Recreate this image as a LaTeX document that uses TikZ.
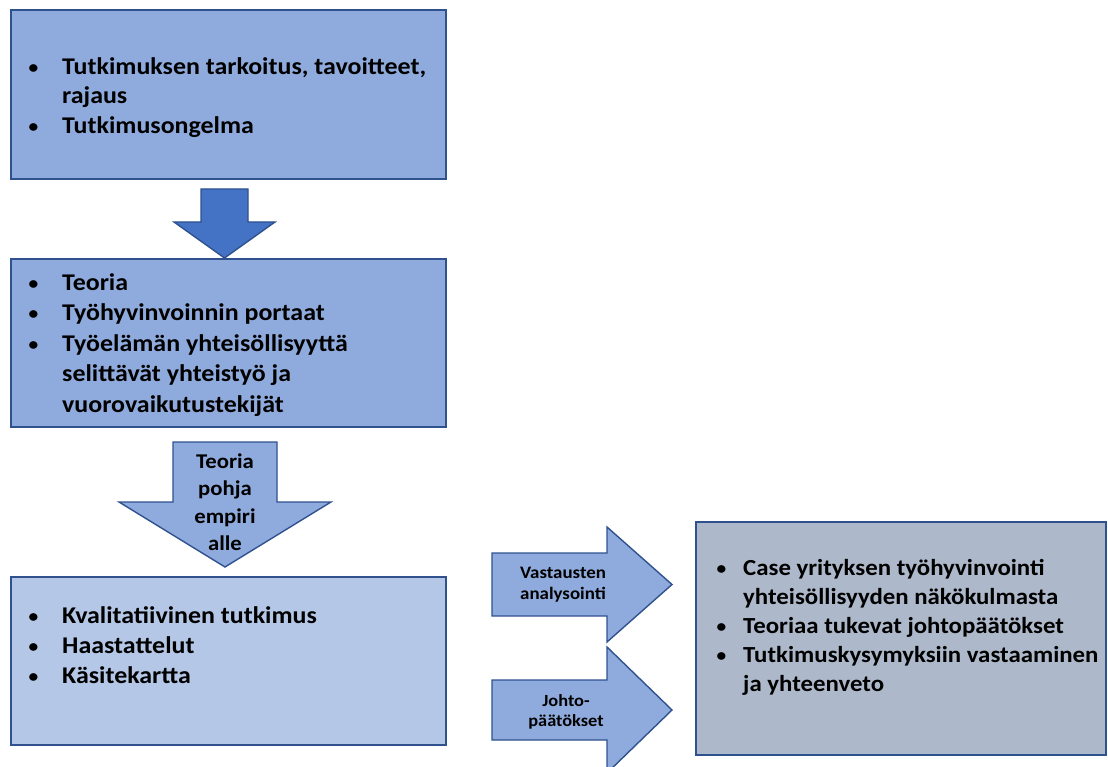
\documentclass[tikz,border=0pt]{standalone}
\usepackage{fontspec}
\setmainfont{Carlito}[FakeStretch=1.08]
\definecolor{bordc}{HTML}{2F528F}
\definecolor{fillA}{HTML}{8FAADC}
\definecolor{fillB}{HTML}{B4C7E7}
\definecolor{fillC}{HTML}{ADB9CA}
\definecolor{fillD}{HTML}{4472C4}
\newcommand{\blt}[2]{\makebox[#1][l]{\hspace{0.5pt}\raisebox{0.8pt}{\fontsize{18}{0}\selectfont\textbullet}}#2}
\tikzset{
  boxshape/.style={draw=bordc, line width=1.6pt},
  arrowshape/.style={draw=bordc, line width=1.4pt, line join=miter},
  listtext/.style={anchor=north west, inner sep=0pt, align=left, font=\bfseries\fontsize{24}{29.5}\selectfont},
  arrowtext/.style={anchor=north, inner sep=0pt, align=center},
}
\begin{document}
\begin{tikzpicture}[x=1pt,y=-1pt]
\useasboundingbox (0,0) rectangle (1108,767);
% boxes
\draw[boxshape, fill=fillA] (11,10) rectangle (446,179);
\draw[boxshape, fill=fillA] (11,259) rectangle (446,427);
\draw[boxshape, fill=fillB] (11,577) rectangle (446,745);
\draw[boxshape, fill=fillC] (696,522) rectangle (1106,755);
% arrow 1
\draw[arrowshape, fill=fillD] (201,189) -- (248,189) -- (248,222) -- (275,222) -- (224.5,258) -- (174,222) -- (201,222) -- cycle;
% arrow 2
\draw[arrowshape, fill=fillA] (173,442) -- (277,442) -- (277,502) -- (331,502) -- (225,567) -- (119,502) -- (173,502) -- cycle;
% arrow 3
\draw[arrowshape, fill=fillA] (492,553) -- (607,553) -- (607,527) -- (672,584.5) -- (607,642) -- (607,616) -- (492,616) -- cycle;
% arrow 4
\draw[arrowshape, fill=fillA] (492,680) -- (607,680) -- (607,647) -- (672,710) -- (607,773) -- (607,740) -- (492,740) -- cycle;
% texts
\node[listtext] (t1) at (28,54) {\rule{0pt}{20pt}\blt{34pt}{Tutkimuksen tarkoitus, tavoitteet,}\\
\hspace*{34pt}rajaus\\
\blt{34pt}{Tutkimusongelma}};
\node[listtext, font=\bfseries\fontsize{24}{30.5}\selectfont] (t2) at (28,270) {\rule{0pt}{20pt}\blt{34pt}{Teoria}\\
\blt{34pt}{Työhyvinvoinnin portaat}\\
\blt{34pt}{Työelämän yhteisöllisyyttä}\\
\hspace*{34pt}selittävät yhteistyö ja\\
\hspace*{34pt}vuorovaikutustekijät};
\node[listtext, font=\bfseries\fontsize{24}{30}\selectfont] (t3) at (28,603) {\rule{0pt}{20pt}\blt{34pt}{Kvalitatiivinen tutkimus}\\
\blt{34pt}{Haastattelut}\\
\blt{34pt}{Käsitekartta}};
\node[listtext, font=\bfseries\fontsize{23}{29}\selectfont] (t4) at (716,555) {\rule{0pt}{20pt}\blt{27pt}{Case yrityksen työhyvinvointi}\\
\hspace*{27pt}yhteisöllisyyden näkökulmasta\\
\blt{27pt}{Teoriaa tukevat johtopäätökset}\\
\blt{27pt}{Tutkimuskysymyksiin vastaaminen}\\
\hspace*{27pt}ja yhteenveto};
\node[arrowtext, font=\bfseries\fontsize{21}{27.5}\selectfont] (a2) at (225,450) {\rule{0pt}{18pt}Teoria\\pohja\\empiri\\alle};
\node[arrowtext, font=\bfseries\fontsize{17.5}{21}\selectfont] (a3) at (563,560) {\rule{0pt}{18pt}Vastausten\\analysointi};
\node[arrowtext, font=\bfseries\fontsize{17}{20}\selectfont] (a4) at (566,688) {\rule{0pt}{18pt}Johto-\\päätökset};
\end{tikzpicture}
\end{document}
